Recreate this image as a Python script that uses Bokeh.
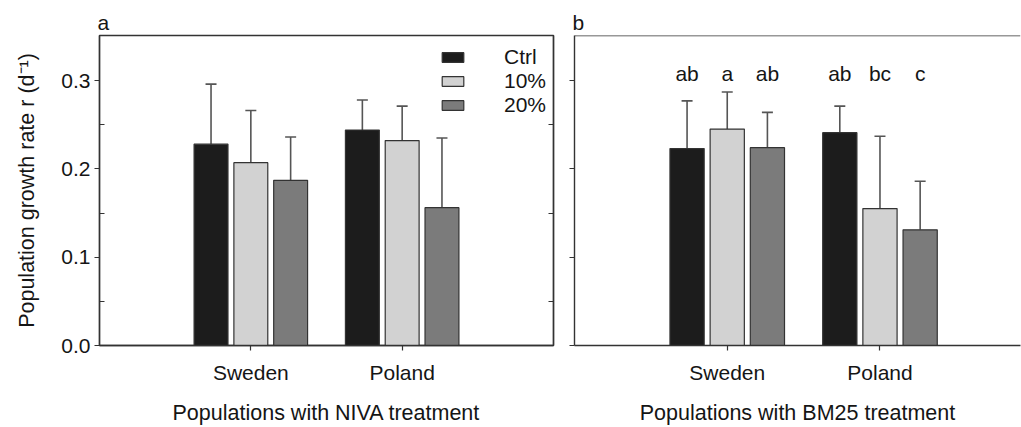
from bokeh.plotting import figure
from bokeh.models import (ColumnDataSource, Whisker, TeeHead, FixedTicker, Legend,
                          LegendItem, Span, NumeralTickFormatter, Range1d, LinearAxis)
from bokeh.layouts import row
from bokeh.embed import file_html
from bokeh.resources import INLINE
from bokeh.core.properties import value

# ---------------- data ----------------
populations = ["Sweden", "Poland"]
treatments = ["Ctrl", "10%", "20%"]
y_ticks = [0.0, 0.1, 0.2, 0.3]
y_minor = [0.05, 0.15, 0.25]

niva_ctrl = [0.228, 0.244]
niva_ctrl_se = [0.068, 0.034]
niva_10 = [0.207, 0.232]
niva_10_se = [0.059, 0.039]
niva_20 = [0.187, 0.156]
niva_20_se = [0.049, 0.079]

bm25_ctrl = [0.223, 0.241]
bm25_ctrl_se = [0.054, 0.030]
bm25_10 = [0.245, 0.155]
bm25_10_se = [0.042, 0.082]
bm25_20 = [0.224, 0.131]
bm25_20_se = [0.040, 0.055]

bm25_letters_ctrl = ["ab", "ab"]
bm25_letters_10 = ["a", "bc"]
bm25_letters_20 = ["ab", "c"]
letter_level = 0.308

y_title = "Population growth rate r (d\u207b\u00b9)"
x_title_a = "Populations with NIVA treatment"
x_title_b = "Populations with BM25 treatment"

# ---------------- style ----------------
FONT = "Liberation Sans"
TXT = "#151515"
LINE = "#333333"
ERR = "#555555"
FILLS = ["#1c1c1c", "#d2d2d2", "#7b7b7b"]
OFFSETS = [-0.263, 0.0, 0.263]
BAR_W = 0.224
H = 427


def panel(tag, xmax, means, ses, width, min_left, min_right, x_title,
          letters=None, show_labels=True, legend=False):
    p = figure(width=width, height=H, x_range=Range1d(0, xmax), y_range=Range1d(0, 0.351),
               output_backend="svg", toolbar_location=None,
               min_border_left=min_left, min_border_right=min_right,
               min_border_top=35, min_border_bottom=82, title=tag)
    p.title.text_font = FONT
    p.title.text_font_size = "21px"
    p.title.text_font_style = "normal"
    p.title.text_color = TXT
    p.title.align = "left"
    p.title.standoff = 3
    p.title.offset = -2
    p.xgrid.visible = False
    p.ygrid.visible = False
    p.background_fill_color = "white"
    p.border_fill_color = "white"

    renderers = []
    for j, (m, s) in enumerate(zip(means, ses)):
        xs = [i + 1 + OFFSETS[j] for i in range(len(populations))]
        src = ColumnDataSource(dict(x=xs, top=m, upper=[a + b for a, b in zip(m, s)]))
        w = Whisker(source=src, base="x", lower="top", upper="upper", dimension="height",
                    line_color=ERR, line_width=1.6, lower_head=None,
                    upper_head=TeeHead(size=11, line_color=ERR, line_width=1.6))
        p.add_layout(w)
        r = p.vbar(x="x", top="top", bottom=0, width=BAR_W, source=src,
                   fill_color=FILLS[j], line_color=LINE, line_width=1.2)
        renderers.append(r)
        if letters is not None:
            lsrc = ColumnDataSource(dict(x=xs, y=[letter_level] * len(xs), t=letters[j]))
            p.text(x="x", y="y", text="t", source=lsrc, text_align="center",
                   text_baseline="middle", text_font=value(FONT),
                   text_font_size="21px", text_color=TXT)

    # axes
    p.yaxis.ticker = FixedTicker(ticks=y_ticks, minor_ticks=y_minor if show_labels else [])
    p.yaxis.formatter = NumeralTickFormatter(format="0.0")
    p.yaxis.major_tick_out = 5
    p.yaxis.major_tick_in = 0
    p.yaxis.minor_tick_in = 5 if show_labels else 0
    p.yaxis.minor_tick_out = 0
    p.xaxis.ticker = FixedTicker(ticks=[i + 1 for i in range(len(populations))])
    p.xaxis.major_label_overrides = {i + 1: n for i, n in enumerate(populations)}
    p.xaxis.major_tick_out = 5
    p.xaxis.major_tick_in = 0
    p.xaxis.major_label_standoff = 10
    for ax in (p.xaxis, p.yaxis):
        ax.axis_line_color = LINE
        ax.axis_line_width = 1.4
        ax.major_tick_line_color = LINE
        ax.major_tick_line_width = 1.2
        ax.minor_tick_line_color = LINE
        ax.major_label_text_font = FONT
        ax.major_label_text_font_size = "21px"
        ax.major_label_text_color = TXT
    p.yaxis.major_label_standoff = 4

    p.xaxis.axis_label = x_title
    p.xaxis.axis_label_text_font = FONT
    p.xaxis.axis_label_text_font_size = "21.5px"
    p.xaxis.axis_label_text_font_style = "normal"
    p.xaxis.axis_label_text_color = TXT
    p.xaxis.axis_label_standoff = 14

    if show_labels:
        p.yaxis.axis_label = y_title
        p.yaxis.axis_label_text_font = FONT
        p.yaxis.axis_label_text_font_size = "21.5px"
        p.yaxis.axis_label_text_font_style = "normal"
        p.yaxis.axis_label_text_color = TXT
        p.yaxis.axis_label_standoff = 19
        p.outline_line_color = LINE
        p.outline_line_width = 1.4
        # inner minor ticks along the right border of the frame
        rax = LinearAxis(ticker=FixedTicker(ticks=[], minor_ticks=y_minor),
                         axis_line_color=LINE, axis_line_width=1.4,
                         minor_tick_in=5, minor_tick_out=0, minor_tick_line_color=LINE,
                         major_tick_in=0, major_tick_out=0, major_label_standoff=0)
        p.add_layout(rax, "right")
    else:
        p.yaxis.major_label_overrides = {t: "" for t in y_ticks}
        p.yaxis.major_label_standoff = 0
        p.outline_line_color = None
        p.add_layout(Span(location=0.351, dimension="width", line_color=LINE, line_width=1.4))

    if legend:
        items = [LegendItem(label=t, renderers=[r]) for t, r in zip(treatments, renderers)]
        lg = Legend(items=items, location=(340, 228), glyph_width=27, glyph_height=12,
                    label_text_font=FONT, label_text_font_size="21px", label_text_color=TXT,
                    label_standoff=38, padding=0, margin=0, spacing=0,
                    border_line_color=None, background_fill_alpha=0)
        p.add_layout(lg)
    return p


pa = panel("a", 3.0, [niva_ctrl, niva_10, niva_20], [niva_ctrl_se, niva_10_se, niva_20_se],
           width=560, min_left=99, min_right=7, x_title=x_title_a, legend=True)
pb = panel("b", 2.92, [bm25_ctrl, bm25_10, bm25_20], [bm25_ctrl_se, bm25_10_se, bm25_20_se],
           width=461, min_left=14, min_right=1, x_title=x_title_b,
           letters=[bm25_letters_ctrl, bm25_letters_10, bm25_letters_20], show_labels=False)

layout = row(pa, pb)
open("out.html", "w").write(file_html(layout, INLINE))
